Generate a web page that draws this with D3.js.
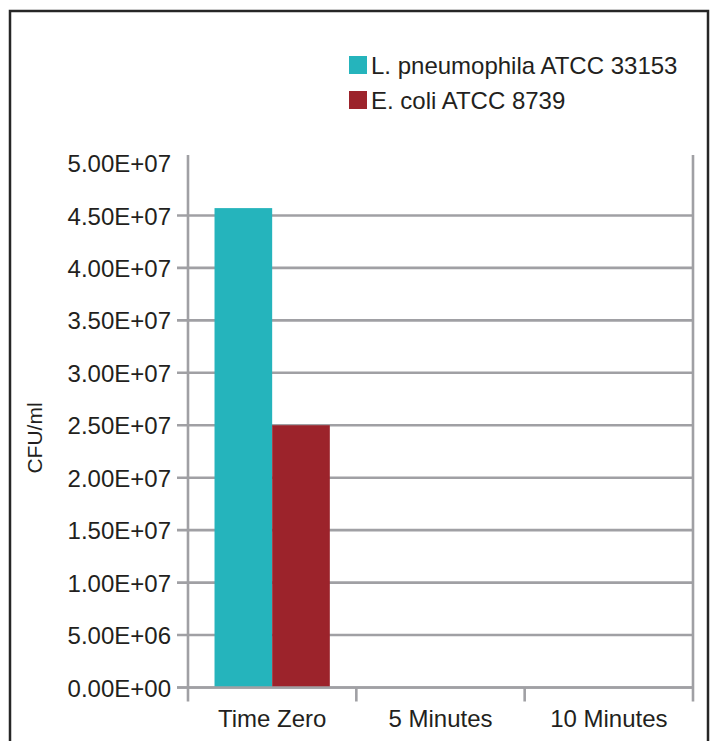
<!DOCTYPE html>
<html>
<head>
<meta charset="utf-8">
<script src="https://cdn.jsdelivr.net/npm/d3@7/dist/d3.min.js"></script>
<style>
  html, body { margin: 0; padding: 0; background: #fff; }
  svg { display: block; }
  text { font-family: "Liberation Sans", Arial, Helvetica, sans-serif; fill: #231f20; }
</style>
</head>
<body>
<div id="chart"></div>
<script>
const categories = ["Time Zero", "5 Minutes", "10 Minutes"];
const seriesNames = ["L. pneumophila ATCC 33153", "E. coli ATCC 8739"];
const lpneumophila = [4.57e7, 0, 0];
const ecoli = [2.5e7, 0, 0];
const yTicks = [0, 5e6, 1e7, 1.5e7, 2e7, 2.5e7, 3e7, 3.5e7, 4e7, 4.5e7, 5e7];
const yTickLabels = ["0.00E+00", "5.00E+06", "1.00E+07", "1.50E+07", "2.00E+07", "2.50E+07",
                     "3.00E+07", "3.50E+07", "4.00E+07", "4.50E+07", "5.00E+07"];
const colors = ["#25b4bc", "#9c232b"];
const seriesValues = [lpneumophila, ecoli];

const W = 714, H = 741;
const svg = d3.select("#chart").append("svg").attr("width", W).attr("height", H);

// outer frame (bottom edge is off-canvas)
svg.append("rect").attr("x", 10).attr("y", 11).attr("width", 698).attr("height", 760)
  .attr("fill", "none").attr("stroke", "#262626").attr("stroke-width", 2.5);

const plot = { left: 188, right: 693, top: 155, bottom: 687.5 };

const x = d3.scaleBand().domain(categories).range([plot.left, plot.right]).paddingInner(0).paddingOuter(0);
const xSub = d3.scaleBand().domain(seriesNames).range([0, x.bandwidth()]).paddingInner(0).paddingOuter(0.46);
const y = d3.scaleLinear().domain([0, 5e7]).range([plot.bottom, 163]);

const gridColor = "#a0a0a4";

// horizontal gridlines (with tick stubs on the left), except top label
svg.append("g").selectAll("line").data(yTicks.filter(v => v < 5e7)).join("line")
  .attr("x1", plot.left - 11).attr("x2", plot.right)
  .attr("y1", d => y(d)).attr("y2", d => y(d))
  .attr("stroke", gridColor).attr("stroke-width", 2.6);

// y axis via d3 axis for labels
const yAxis = d3.axisLeft(y).tickValues(yTicks)
  .tickFormat((d, i) => yTickLabels[i]).tickSize(0).tickPadding(17);
const gy = svg.append("g").attr("transform", `translate(${plot.left},0)`).call(yAxis);
gy.select(".domain").remove();
gy.selectAll("text").attr("font-size", 24).attr("fill", "#231f20")
  .style("font-family", '"Liberation Sans", Arial, sans-serif').attr("dy", "0.36em");

// bars
const groups = svg.append("g").selectAll("g").data(categories).join("g")
  .attr("transform", d => `translate(${x(d)},0)`);
groups.selectAll("rect").data((d, i) => seriesNames.map((s, j) => ({ s, v: seriesValues[j][i], c: colors[j] })))
  .join("rect")
  .attr("x", d => xSub(d.s)).attr("width", xSub.bandwidth())
  .attr("y", d => y(d.v)).attr("height", d => plot.bottom - y(d.v))
  .attr("fill", d => d.c);

// vertical axis lines (left and right)
svg.append("line").attr("x1", plot.left).attr("x2", plot.left).attr("y1", plot.top).attr("y2", plot.bottom + 14)
  .attr("stroke", gridColor).attr("stroke-width", 2.6);
svg.append("line").attr("x1", plot.right).attr("x2", plot.right).attr("y1", plot.top).attr("y2", plot.bottom + 14)
  .attr("stroke", gridColor).attr("stroke-width", 2.6);

// x axis baseline redrawn over bars
svg.append("line").attr("x1", plot.left - 11).attr("x2", plot.right).attr("y1", plot.bottom).attr("y2", plot.bottom)
  .attr("stroke", gridColor).attr("stroke-width", 2.6);

// category separator ticks
svg.append("g").selectAll("line").data(categories.slice(1)).join("line")
  .attr("x1", d => x(d)).attr("x2", d => x(d))
  .attr("y1", plot.bottom).attr("y2", plot.bottom + 14)
  .attr("stroke", gridColor).attr("stroke-width", 2.6);

// x labels
const xAxis = d3.axisBottom(x).tickSize(0).tickPadding(0);
const gx = svg.append("g").attr("transform", `translate(0,${plot.bottom})`).call(xAxis);
gx.select(".domain").remove();
gx.selectAll("text").attr("font-size", 24).attr("fill", "#231f20")
  .style("font-family", '"Liberation Sans", Arial, sans-serif')
  .attr("y", 39).attr("dy", 0);

// y axis title
svg.append("text").attr("transform", "translate(42,438) rotate(-90)")
  .attr("text-anchor", "middle").attr("font-size", 21).text("CFU/ml");

// legend
const legend = svg.append("g").selectAll("g").data(seriesNames).join("g")
  .attr("transform", (d, i) => `translate(349,${56 + i * 35})`);
legend.append("rect").attr("width", 18).attr("height", 18).attr("fill", (d, i) => colors[i]);
legend.append("text").attr("x", 22).attr("y", 18).attr("font-size", 24).text(d => d);
</script>
</body>
</html>
